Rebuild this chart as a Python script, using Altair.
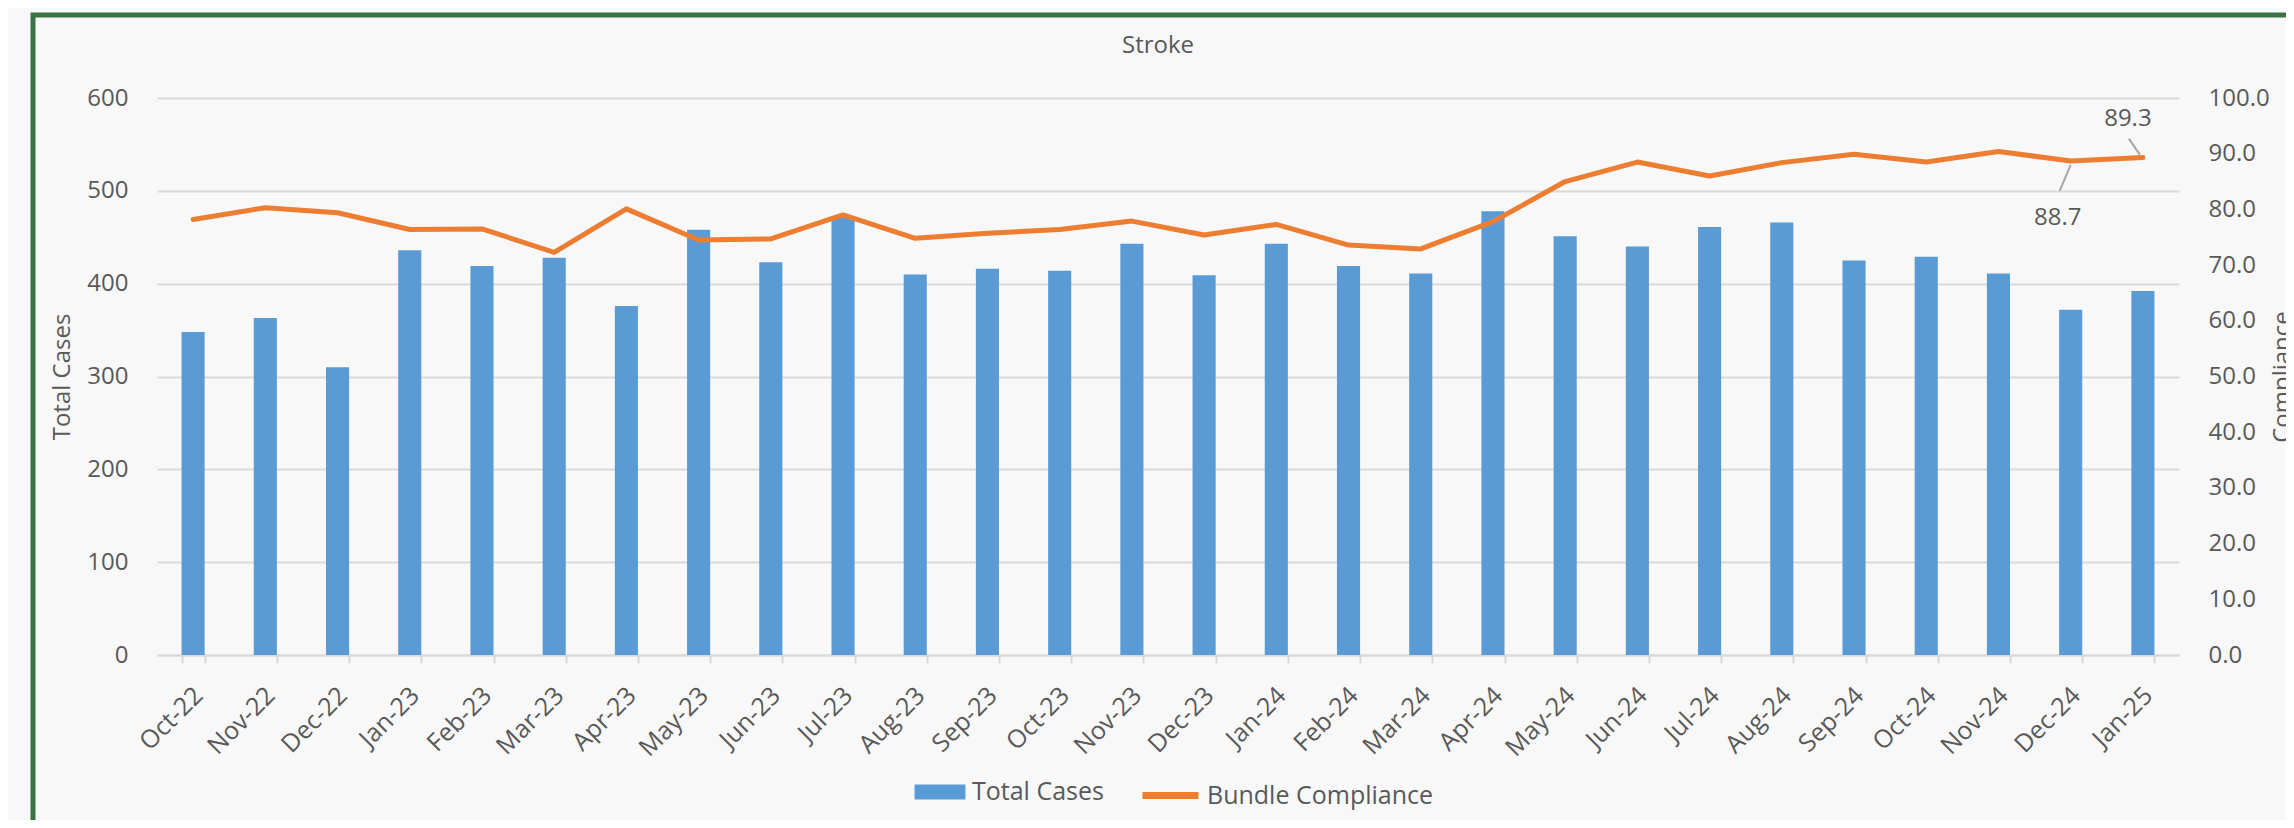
import altair as alt
import pandas as pd

# ---------------- data ----------------
months = ["Oct-22", "Nov-22", "Dec-22", "Jan-23", "Feb-23", "Mar-23", "Apr-23",
          "May-23", "Jun-23", "Jul-23", "Aug-23", "Sep-23", "Oct-23", "Nov-23",
          "Dec-23", "Jan-24", "Feb-24", "Mar-24", "Apr-24", "May-24", "Jun-24",
          "Jul-24", "Aug-24", "Sep-24", "Oct-24", "Nov-24", "Dec-24", "Jan-25"]
total_cases = [348, 363, 310, 436, 419, 428, 376, 458, 423, 472, 410, 416, 414, 443,
               409, 443, 419, 411, 478, 451, 440, 461, 466, 425, 429, 411, 372, 392]
compliance = [78.2, 80.3, 79.4, 76.4, 76.5, 72.3, 80.1, 74.5, 74.7, 79.0, 74.8, 75.7,
              76.4, 77.9, 75.4, 77.3, 73.6, 72.9, 77.8, 85.0, 88.5, 86.0, 88.4, 89.9,
              88.5, 90.4, 88.7, 89.3]
bar_series = "Total Cases"
line_series = "Bundle Compliance"
chart_title = "Stroke"
left_ticks = [0, 100, 200, 300, 400, 500, 600]
right_ticks = [0, 10, 20, 30, 40, 50, 60, 70, 80, 90, 100]

df = pd.DataFrame({
    "month": months,
    "idx": list(range(len(months))),
    "total": total_cases,
    "compliance": compliance,
    "bar_series": [bar_series] * len(months),
    "line_series": [line_series] * len(months),
})

# ---------------- style ----------------
FONT = "Open Sans"
TXT = "#595959"
GRID = "#d9d9d9"
BLUE = "#5b9bd5"
ORANGE = "#ed7d31"
GREEN = "#3b7245"
W, H = 2022, 557

base = alt.Chart(df)

x_band = alt.X(
    "month:N", sort=months,
    scale=alt.Scale(paddingInner=0.68, paddingOuter=0.34),
    axis=alt.Axis(title=None, labelAngle=315, labelAlign="right", labelBaseline="middle",
                  labelPadding=28, labelOffset=5, tickBand="extent", tickSize=8,
                  tickColor=GRID, tickWidth=2, domainColor=GRID, domainWidth=2,
                  labelFontSize=25, labelColor=TXT, labelFont=FONT),
)

bars = base.mark_bar().encode(
    x=x_band,
    y=alt.Y("total:Q", scale=alt.Scale(domain=[0, 600], nice=False),
            axis=alt.Axis(title="Total Cases", values=left_ticks, grid=True,
                          gridColor=GRID, gridWidth=2, domain=False, ticks=False,
                          labelPadding=29, labelFontSize=24, labelColor=TXT,
                          labelFont=FONT, titleFontSize=24, titleColor=TXT,
                          titleFont=FONT, titleFontWeight="normal", titlePadding=12)),
    color=alt.Color(
        "bar_series:N",
        scale=alt.Scale(domain=[bar_series], range=[BLUE]),
        legend=alt.Legend(
            title=None, orient="none", legendX=755, legendY=666,
            symbolType="M-0.91,-0.27H0.91V0.27H-0.91Z", symbolSize=3136,
            symbolStrokeWidth=0, symbolOpacity=1, labelFontSize=25,
            labelFont=FONT, labelColor=TXT, labelOffset=4, labelLimit=400,
        ),
    ),
)

xq = alt.X("idx:Q", scale=alt.Scale(domain=[-0.5, len(months) - 0.5], nice=False, zero=False),
           axis=None)
y_right = alt.Y(
    "compliance:Q", scale=alt.Scale(domain=[0, 100], nice=False),
    axis=alt.Axis(orient="right", title="Compliance", values=right_ticks,
                  format=".1f", grid=False, domain=False, ticks=False,
                  labelPadding=29, labelFontSize=24, labelColor=TXT,
                  labelFont=FONT, titleFontSize=24, titleColor=TXT,
                  titleFont=FONT, titleFontWeight="normal", titleAngle=270,
                  titleBaseline="top", titlePadding=1),
)

line = base.mark_line(strokeWidth=5, strokeCap="round", strokeJoin="round").encode(
    x=xq,
    y=y_right,
    stroke=alt.Stroke(
        "line_series:N",
        scale=alt.Scale(domain=[line_series], range=[ORANGE]),
        legend=alt.Legend(
            title=None, orient="none", legendX=982, legendY=666,
            symbolType="stroke", symbolSize=3136, symbolStrokeWidth=7,
            labelFontSize=25, labelFont=FONT, labelColor=TXT, labelOffset=5,
            labelLimit=400,
        ),
    ),
)

lead_dec = base.transform_filter("datum.month == 'Dec-24'").mark_rule(
    color="#a6a6a6", strokeWidth=2, xOffset=0, yOffset=4, x2Offset=-11, y2Offset=30
).encode(x=xq, x2=alt.X2("idx"), y=y_right, y2=alt.Y2("compliance"))

lead_jan = base.transform_filter("datum.month == 'Jan-25'").mark_rule(
    color="#a6a6a6", strokeWidth=2, xOffset=-3, yOffset=-3, x2Offset=-14, y2Offset=-19
).encode(x=xq, x2=alt.X2("idx"), y=y_right, y2=alt.Y2("compliance"))

lab_dec = base.transform_filter("datum.month == 'Dec-24'").mark_text(
    dx=-13, dy=57, fontSize=24, font=FONT, color=TXT
).encode(x=xq, y=y_right, text=alt.Text("compliance:Q", format=".1f"))

lab_jan = base.transform_filter("datum.month == 'Jan-25'").mark_text(
    dx=-15, dy=-39, fontSize=24, font=FONT, color=TXT
).encode(x=xq, y=y_right, text=alt.Text("compliance:Q", format=".1f"))

deco = pd.DataFrame({"title": [chart_title]})

frame = alt.Chart(deco).mark_rect(
    filled=False, stroke=GREEN, strokeWidth=5
).encode(x=alt.value(-124), x2=alt.value(2170), y=alt.value(-83), y2=alt.value(727))

title_text = alt.Chart(deco).mark_text(
    fontSize=24, font=FONT, color=TXT, align="center", baseline="alphabetic"
).encode(x=alt.value(W / 2 - 10), y=alt.value(-45), text="title:N")

chart = alt.layer(
    frame, title_text, bars, alt.layer(line, lead_dec, lead_jan, lab_dec, lab_jan)
).resolve_scale(x="independent", y="independent").properties(
    width=W, height=H,
    padding={"left": 149, "top": 90, "right": 107, "bottom": 165},
    autosize=alt.AutoSizeParams(type="none"),
).configure(background="#f8f8f8", font=FONT).configure_view(stroke=None)

chart.save("out.html", embed_options={"renderer": "svg", "actions": False})
